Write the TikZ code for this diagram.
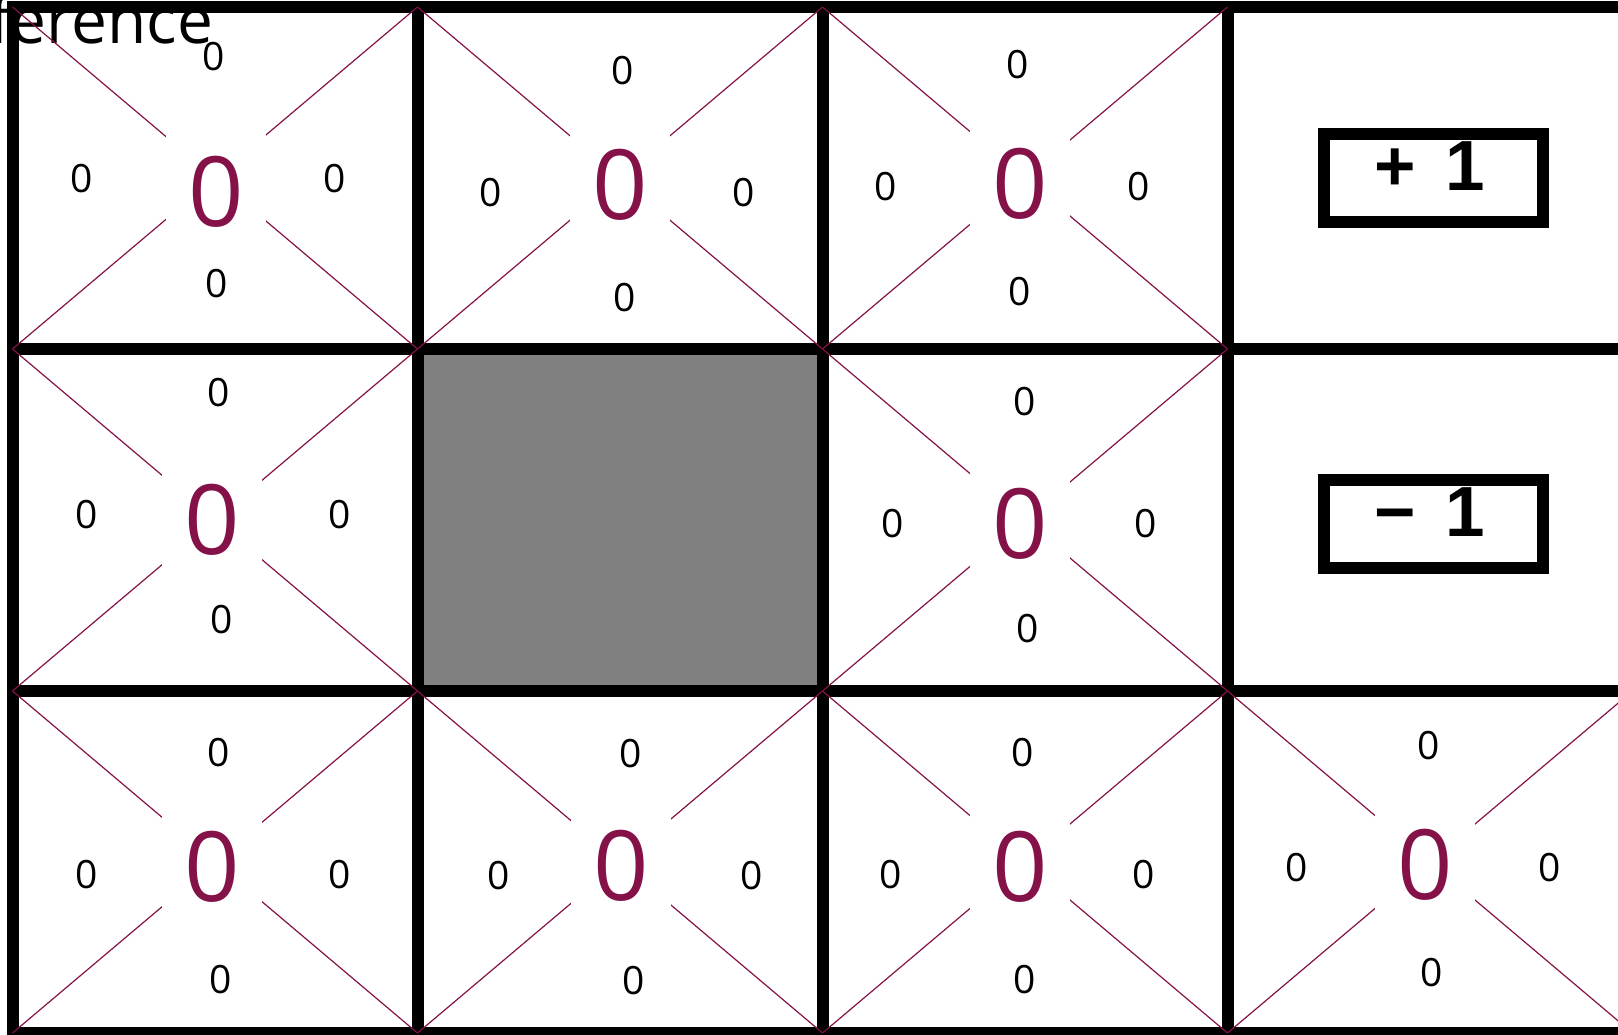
\documentclass[tikz,border=0pt]{standalone}
\usepackage{fontspec}
\setmainfont{Open Sans}
\newfontfamily\rewardfont[WordSpace=1.5]{Liberation Sans}
\usepackage{xcolor}
\definecolor{wine}{RGB}{132,17,72}
\definecolor{wallgray}{RGB}{128,128,128}

\begin{document}
\begin{tikzpicture}[x=1pt, y=-1pt,
  cell/.style={draw, line width=12pt, inner sep=0pt, outer sep=0pt,
    minimum width=405pt, minimum height=342pt},
  diag/.style={draw=wine, line width=1.2pt},
  qv/.style={fill=white, text=wine, inner sep=0pt, minimum width=100pt,
    minimum height=130pt, font=\fontsize{97}{110}\selectfont},
  qa/.style={inner sep=0pt, font=\fontsize{39}{44}\selectfont},
  reward/.style={draw, line width=12pt, inner sep=0pt, minimum width=219pt,
    minimum height=88pt, text depth=23pt,
    font=\rewardfont\bfseries\fontsize{71}{80}\selectfont},
]
\useasboundingbox (0,0) rectangle (1618,1035);
\clip (0,0) rectangle (1618,1035);
% grid of states
\foreach \r in {1,2,3}
  \foreach \c in {1,...,4} {
    \ifnum\r\c=22 \def\cellfill{wallgray}\else\def\cellfill{none}\fi
    \node[cell, fill=\cellfill] (s\r\c) at ({215+405*(\c-1)}, {178+342*(\r-1)}) {};
  }
\node[anchor=base west, inner sep=0pt, font=\fontsize{64}{74}\selectfont] (title) at (-11,44) {ference};
% action triangles
\foreach \n in {11,12,13,21,23,31,32,33,34}
  \draw[diag] (s\n.north west) -- (s\n.south east)
              (s\n.north east) -- (s\n.south west);
% state value and the four action values
\foreach \n/\bx/\by/\gx/\gy in {11/216/192/208.5/179, 12/620/185/617/193,
    13/1020/184/1012/187, 21/212/520/213.5/515, 23/1020/524/1019.5/524,
    31/212/867/213/875, 32/621/866/625.5/876, 33/1020/867/1017/875,
    34/1425/865/1423.5/868} {
  \node[qv] (v\n) at (\bx,\by) {0};
  \node[qa] (up\n) at (\gx+5.5,\gy-122) {0};
  \node[qa] (down\n) at (\gx+8,\gy+105) {0};
  \node[qa] (left\n) at (\gx-126.5,\gy) {0};
  \node[qa] (right\n) at (\gx+126.5,\gy) {0};
}
% terminal rewards
\node[reward] (plus) at (1433.5,178) {+ 1\hspace*{8pt}};
\node[reward] (minus) at (1433.5,524) {− 1\hspace*{8pt}};
\end{tikzpicture}
\end{document}
